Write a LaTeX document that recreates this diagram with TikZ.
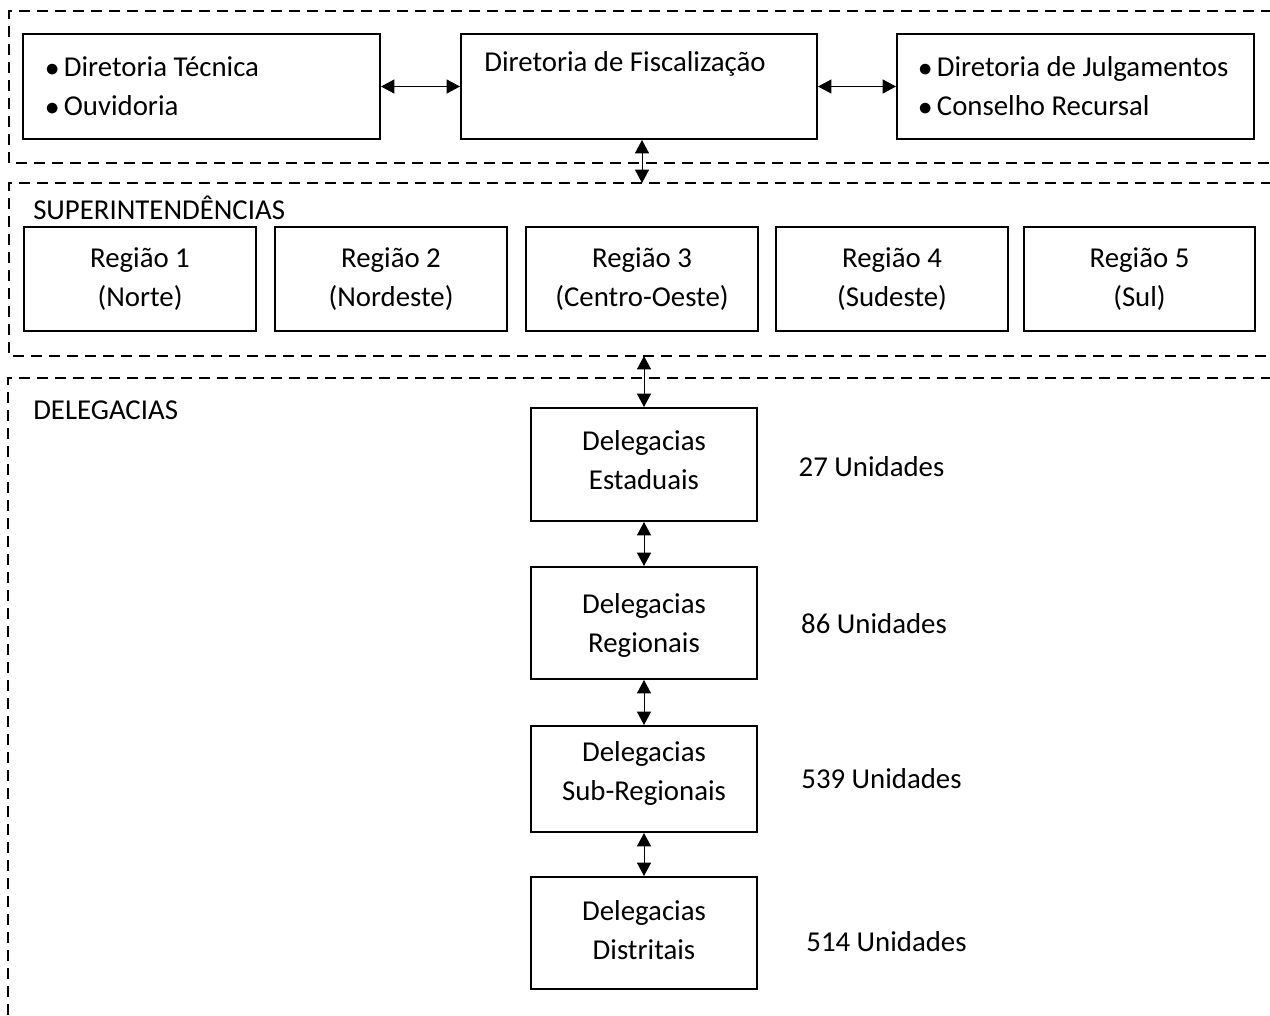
\documentclass[tikz,border=0pt]{standalone}
\usepackage{fontspec}
\setmainfont{Carlito}
\usetikzlibrary{arrows.meta}
\begin{document}
\begin{tikzpicture}[x=0.75pt,y=-0.75pt,
  font=\fontsize{21.6}{29.25}\selectfont,
  box/.style 2 args={draw, line width=1.5pt, minimum width=#1*0.75pt, minimum height=#2*0.75pt, inner sep=0pt, align=center},
  region/.style={draw, line width=1.5pt, dash pattern=on 8.25pt off 5.25pt},
  dbl/.style={line width=0.75pt, {Triangle[width=10.5pt,length=10pt]}-{Triangle[width=10.5pt,length=10pt]}},
  lbl/.style={inner sep=0pt, align=center}
]
\clip (0,0) rectangle (1270,1015);
% regions
\draw[region] (1290,11) -- (9,11) -- (9,163) -- (1290,163);
\draw[region] (1290,183) -- (9,183) -- (9,356) -- (1290,356);
\draw[region] (1290,378) -- (8,378) -- (8,1040);
\coordinate (r2top) at (642,183);
\coordinate (r2bot) at (644,356);
% top row
\node[box={357}{105}] (b1) at (201.5,86.5) {};
\node[lbl, anchor=west, align=left] (b1t) at (45,86) {$\bullet$\,Diretoria Técnica\\$\bullet$\,Ouvidoria};
\node[box={356}{105}] (b2) at (639,86.5) {};
\node[lbl] (b2t) at (625,64) {Diretoria de Fiscalização};
\node[box={357}{105}] (b3) at (1075.5,86.5) {};
\node[lbl, anchor=west, align=left] (b3t) at (918,86) {$\bullet$\,Diretoria de Julgamentos\\$\bullet$\,Conselho Recursal};
\draw[dbl] (b1.east) -- (b2.west);
\draw[dbl] (b2.east) -- (b3.west);
\draw[dbl] (b2.south -| r2top) -- (r2top);
% superintendencias
\node[lbl, anchor=west] (sup) at (33,208) {SUPERINTENDÊNCIAS};
\node[box={232}{104}] (s1) at (140,279) {Região 1\\(Norte)};
\node[box={232}{104}] (s2) at (391,279) {Região 2\\(Nordeste)};
\node[box={232}{104}] (s3) at (642,279) {Região 3\\(Centro-Oeste)};
\node[box={232}{104}] (s4) at (892,279) {Região 4\\(Sudeste)};
\node[box={231}{104}] (s5) at (1139.5,279) {Região 5\\(Sul)};
% delegacias
\node[lbl, anchor=west] (del) at (33,410) {DELEGACIAS};
\node[box={226}{113}] (d1) at (644,464.5) {};
\node[box={226}{112}] (d2) at (644,623) {};
\node[box={226}{106}] (d3) at (644,779) {};
\node[box={226}{112}] (d4) at (644,933) {};
\node[lbl] (d1t) at (644,460) {Delegacias\\Estaduais};
\node[lbl] (d2t) at (644,625.5) {Delegacias\\Regionais};
\node[lbl] (d3t) at (644,773.5) {Delegacias\\Sub-Regionais};
\node[lbl] (d4t) at (644,930.5) {Delegacias\\Distritais};
\draw[dbl] (r2bot) -- (d1.north);
\draw[dbl] (d1) -- (d2);
\draw[dbl] (d2) -- (d3);
\draw[dbl] (d3) -- (d4);
\node[lbl] (u1) at (871.5,467) {27 Unidades};
\node[lbl] (u2) at (874,624) {86 Unidades};
\node[lbl] (u3) at (881.5,779) {539 Unidades};
\node[lbl] (u4) at (886.5,942) {514 Unidades};
\end{tikzpicture}
\end{document}
